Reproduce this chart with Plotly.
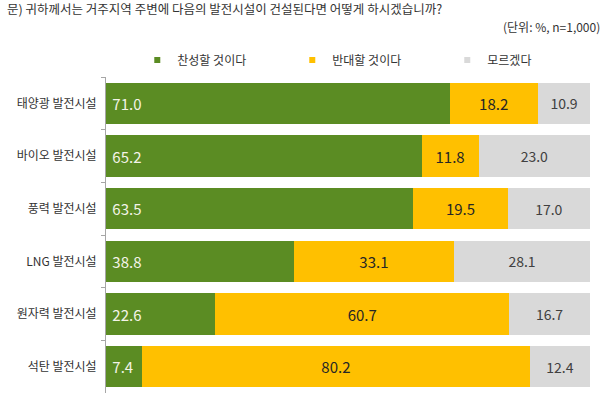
import plotly.graph_objects as go

categories = ["태양광 발전시설", "바이오 발전시설", "풍력 발전시설", "LNG 발전시설", "원자력 발전시설", "석탄 발전시설"]
favor = [71.0, 65.2, 63.5, 38.8, 22.6, 7.4]
oppose = [18.2, 11.8, 19.5, 33.1, 60.7, 80.2]
unknown = [10.9, 23.0, 17.0, 28.1, 16.7, 12.4]
series_names = ["찬성할 것이다", "반대할 것이다", "모르겠다"]
colors = ["#5B8C23", "#FFC000", "#D9D9D9"]

FONT = "Noto Sans CJK KR"

fig = go.Figure()
fig.add_trace(go.Bar(
    y=categories, x=favor, orientation="h", marker=dict(color=colors[0], line=dict(width=0)),
    text=[f" {v:.1f}" for v in favor], textposition="inside", insidetextanchor="start",
    textfont=dict(family=FONT, size=15, color="#F4F4E8"), showlegend=False,
    name=series_names[0], constraintext="none"))
fig.add_trace(go.Bar(
    y=categories, x=oppose, orientation="h", marker=dict(color=colors[1], line=dict(width=0)),
    text=[f"{v:.1f}" for v in oppose], textposition="inside", insidetextanchor="middle",
    textfont=dict(family=FONT, size=15, color="#262626"), showlegend=False,
    name=series_names[1], constraintext="none"))
fig.add_trace(go.Bar(
    y=categories, x=unknown, orientation="h", marker=dict(color=colors[2], line=dict(width=0)),
    text=[f"{v:.1f}" for v in unknown], textposition="inside", insidetextanchor="middle",
    textfont=dict(family=FONT, size=14, color="#404040"), showlegend=False,
    name=series_names[2], constraintext="none"))

for n, c in zip(series_names, colors):
    fig.add_trace(go.Scatter(x=[None], y=[None], mode="markers", name=n,
                             marker=dict(symbol="square", size=6, color=c)))

fig.update_layout(
    barmode="stack", bargap=0.22,
    width=606, height=398,
    margin=dict(l=106, r=16, t=77, b=5, autoexpand=False),
    paper_bgcolor="white", plot_bgcolor="white",
    font=dict(family=FONT, size=12, color="#333333"),
    legend=dict(orientation="h", traceorder="normal", x=0.545, xanchor="center", y=1.054, yanchor="middle",
                font=dict(size=12, color="#333333"), itemwidth=30,
                entrywidth=110, entrywidthmode="pixels", bgcolor="rgba(0,0,0,0)"),
    xaxis=dict(range=[0, 100], visible=False, fixedrange=True),
    yaxis=dict(categoryorder="array", categoryarray=categories, autorange="reversed",
               showline=True, linecolor="#A6A6A6", linewidth=1,
               ticks="outside", ticklen=4, tickcolor="#A6A6A6", tickson="boundaries",
               ticklabelstandoff=6, automargin=False,
               showgrid=False, tickfont=dict(size=12, color="#333333")),
    annotations=[
        dict(text="문) 귀하께서는 거주지역 주변에 다음의 발전시설이 건설된다면 어떻게 하시겠습니까?",
             xref="paper", yref="paper", x=-0.209, y=1.218, xanchor="left", yanchor="middle",
             showarrow=False, font=dict(size=12.5, color="#333333")),
        dict(text="(단위: %, n=1,000)", xref="paper", yref="paper", x=1.025, y=1.161,
             xanchor="right", yanchor="middle", showarrow=False,
             font=dict(size=12, color="#333333")),
    ],
)

fig.write_html("out.html", post_script="document.body.style.margin='0';",
               config={"displayModeBar": False})
